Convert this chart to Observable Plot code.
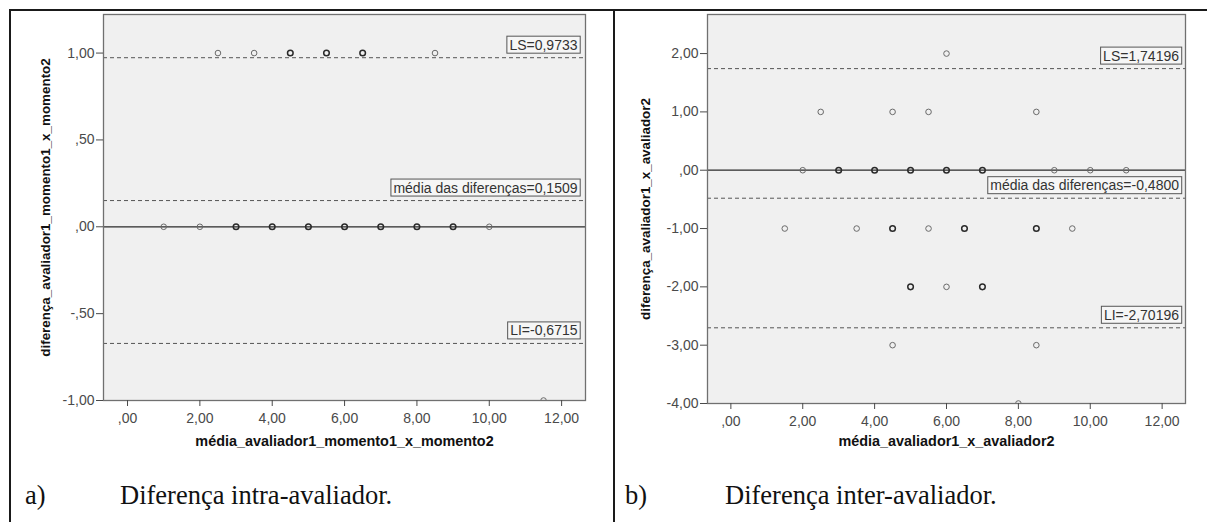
<!DOCTYPE html>
<html><head><meta charset="utf-8">
<script src="https://cdn.jsdelivr.net/npm/d3@7"></script>
<script src="https://cdn.jsdelivr.net/npm/@observablehq/plot@0.6"></script>
<style>
html,body{margin:0;padding:0;background:#fff;}
#page{position:relative;width:1207px;height:522px;overflow:hidden;font-family:"Liberation Sans",Arial,sans-serif;}
.panel{position:absolute;top:0;}
.panel svg{overflow:visible;}
.rule{position:absolute;background:#1a1a1a;}
.cap{position:absolute;font-family:"Liberation Serif","Times New Roman",serif;font-size:26.5px;color:#111;line-height:1;white-space:nowrap;}
</style></head><body>
<div id="page">
  <div class="rule" style="left:9px;top:9px;width:1198px;height:2px;"></div>
  <div class="rule" style="left:9px;top:9px;width:2px;height:513px;"></div>
  <div class="rule" style="left:613px;top:9px;width:2px;height:513px;"></div>
  <div class="panel" id="pa" style="left:0px;"></div>
  <div class="panel" id="pb" style="left:606px;"></div>
  <div class="cap" style="left:25px;top:482px;">a)</div>
  <div class="cap" style="left:120px;top:482px;">Diferença intra-avaliador.</div>
  <div class="cap" style="left:625px;top:482px;">b)</div>
  <div class="cap" style="left:725px;top:482px;">Diferença inter-avaliador.</div>
</div>
<script>
// ---- Panel a: intra-avaliador ----
const aMean = [2.5, 3.5, 4.5, 5.5, 6.5, 8.5, 1, 2, 3, 4, 5, 6, 7, 8, 9, 10, 11.5];
const aDiff = [1, 1, 1, 1, 1, 1, 0, 0, 0, 0, 0, 0, 0, 0, 0, 0, -1];
const aCount = [1, 1, 2, 2, 2, 1, 1, 1, 2, 2, 2, 2, 2, 2, 2, 1, 1];
const aLimits = [0.9733, 0.1509, -0.6715];
const aLimitLabels = ["LS=0,9733", "média das diferenças=0,1509", "LI=-0,6715"];
const aYTicks = [-1, -0.5, 0, 0.5, 1];
const aXLabel = "média_avaliador1_momento1_x_momento2";
const aYLabel = "diferença_avaliador1_momento1_x_momento2";

// ---- Panel b: inter-avaliador ----
const bMean = [6, 2.5, 4.5, 5.5, 8.5, 2, 3, 4, 5, 6, 7, 9, 10, 11, 1.5, 3.5, 4.5, 5.5, 6.5, 8.5, 9.5, 5, 6, 7, 4.5, 8.5, 8];
const bDiff = [2, 1, 1, 1, 1, 0, 0, 0, 0, 0, 0, 0, 0, 0, -1, -1, -1, -1, -1, -1, -1, -2, -2, -2, -3, -3, -4];
const bCount = [1, 1, 1, 1, 1, 1, 2, 2, 2, 2, 2, 1, 1, 1, 1, 1, 2, 1, 2, 2, 1, 2, 1, 2, 1, 1, 1];
const bLimits = [1.74196, -0.48, -2.70196];
const bLimitLabels = ["LS=1,74196", "média das diferenças=-0,4800", "LI=-2,70196"];
const bYTicks = [-4, -3, -2, -1, 0, 1, 2];
const bXLabel = "média_avaliador1_x_avaliador2";
const bYLabel = "diferença_avaliador1_x_avaliador2";

const xTicks = [0, 2, 4, 6, 8, 10, 12];

const fmt = d => {
  const s = Math.abs(d).toFixed(2).replace(".", ",");
  return (d < 0 ? "-" : "") + (Math.abs(d) < 1 ? s.slice(1) : s);
};

function panel(o) {
  const pts = o.xs.map((x, i) => ({x, y: o.ys[i], n: o.ns[i]}));
  const lim = o.lines.map((v, i) => ({v, label: o.labels[i]}));
  return Plot.plot({
    width: o.width, height: o.height,
    marginTop: o.m[0], marginRight: o.m[1], marginBottom: o.m[2], marginLeft: o.m[3],
    style: {fontFamily: "'Liberation Sans', Arial, sans-serif", fontSize: "14px", color: "#444", background: "transparent", overflow: "visible"},
    x: {domain: o.xDomain},
    y: {domain: o.yDomain},
    marks: [
      Plot.frame({fill: "#f0f0f0", stroke: null}),
      Plot.text(lim, {y: "v", text: "label", frameAnchor: "right", textAnchor: "end", dx: o.labelDx, dy: -12.5, fontSize: 14, fill: "#333"}),
      Plot.ruleY([0], {stroke: "#2a2a2a", strokeWidth: 1.2}),
      Plot.ruleY(lim, {y: "v", stroke: "#555", strokeWidth: 1, strokeDasharray: "4,3"}),
      Plot.dot(pts.filter(d => d.n === 1), {x: "x", y: "y", r: 2.8, stroke: "#6a6a6a", strokeWidth: 1, clip: true}),
      Plot.dot(pts.filter(d => d.n > 1), {x: "x", y: "y", r: 2.8, stroke: "#2a2a2a", strokeWidth: 1.5, clip: true}),
      Plot.frame({stroke: "#707070", strokeWidth: 1.3}),
      Plot.axisY({ticks: o.yTicks, tickFormat: fmt, tickSize: 7, tickPadding: 2, label: null, fontSize: 14, color: "#4a4a4a"}),
      Plot.axisX({ticks: xTicks, tickFormat: fmt, tickSize: 6, tickPadding: 7, label: null, fontSize: 14, color: "#4a4a4a"}),
      Plot.text([o.xLabel], {frameAnchor: "bottom", text: d => d, textAnchor: "middle", lineAnchor: "middle", dy: o.xLabelDy, fontWeight: "bold", fontSize: 14.4, fill: "#111"}),
      Plot.text([o.yLabel], {frameAnchor: "left", text: d => d, textAnchor: "middle", lineAnchor: "middle", rotate: -90, dx: o.yLabelDx, fontWeight: "bold", fontSize: 13.4, fill: "#111"})
    ]
  });
}

function addBoxes(svg) {
  const g = svg.querySelector('g[aria-label="text"]');
  if (!g) return;
  g.querySelectorAll("text").forEach(t => {
    const b = t.getBBox();
    const r = document.createElementNS("http://www.w3.org/2000/svg", "rect");
    r.setAttribute("x", b.x - 2.5);
    r.setAttribute("y", b.y - 0.5);
    r.setAttribute("width", b.width + 5);
    r.setAttribute("height", b.height + 1);
    r.setAttribute("fill", "#f6f6f6");
    r.setAttribute("stroke", "#555");
    r.setAttribute("stroke-width", "1");
    if (t.getAttribute("transform")) r.setAttribute("transform", t.getAttribute("transform"));
    t.parentNode.insertBefore(r, t);
  });
}

const svgA = panel({
  xs: aMean, ys: aDiff, ns: aCount, lines: aLimits, labels: aLimitLabels,
  yTicks: aYTicks, yDomain: [-1, 1.222], xDomain: [-0.664, 12.66],
  xLabel: aXLabel, yLabel: aYLabel,
  width: 606, height: 470, m: [14, 21, 70, 103],
  labelDx: -8, xLabelDy: 41, yLabelDx: -58
});
document.getElementById("pa").appendChild(svgA);
addBoxes(svgA);

const svgB = panel({
  xs: bMean, ys: bDiff, ns: bCount, lines: bLimits, labels: bLimitLabels,
  yTicks: bYTicks, yDomain: [-4, 2.67], xDomain: [-0.65, 12.65],
  xLabel: bXLabel, yLabel: bYLabel,
  width: 601, height: 470, m: [14, 22, 67, 101],
  labelDx: -6.5, xLabelDy: 38, yLabelDx: -62
});
document.getElementById("pb").appendChild(svgB);
addBoxes(svgB);
</script>
</body></html>
